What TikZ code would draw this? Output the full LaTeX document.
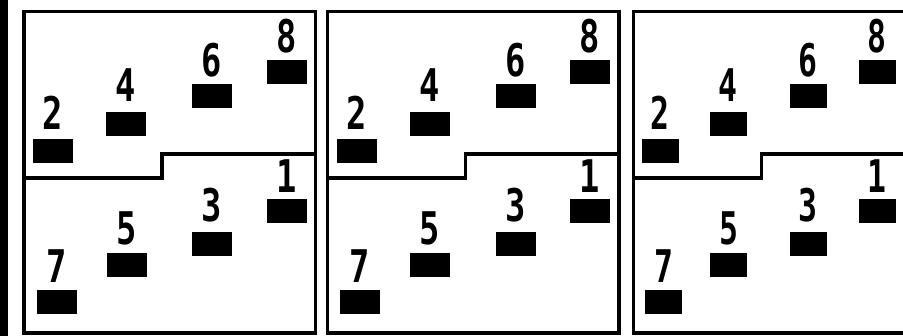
\documentclass[tikz,border=0pt]{standalone}
\usepackage{fontspec}
\newfontfamily\digitfont{DejaVu Sans Mono Bold}[FakeStretch=0.75]
\newfontfamily\digitfontc{DejaVu Sans Mono Bold}[FakeStretch=0.7]
\tikzset{
  frame/.style={line width=3.5pt, draw=black},
  bar/.style={fill=black, inner sep=0pt, minimum height=24pt},
  digit/.style={inner sep=0pt, anchor=base, text=black}
}
\newcommand\mypanel[5]{% #1 prefix, #2 xshift, #3 xscale, #4 bar width, #5 font
\begin{scope}[xshift=#2, xscale=#3, digit/.append style={font=#5\fontsize{45}{45}\selectfont}]
  \draw[frame] (24,11.5) rectangle (315.5,333);
  \draw[frame] (24,178) -- (162,178) -- (162,154) -- (315.5,154);
  \node[bar, minimum width=#4] (#1b2) at (53,151) {};
  \node[bar, minimum width=#4] (#1b4) at (126,124) {};
  \node[bar, minimum width=#4] (#1b6) at (212,96) {};
  \node[bar, minimum width=#4] (#1b8) at (286.5,72) {};
  \node[bar, minimum width=#4] (#1b1) at (286.5,211.5) {};
  \node[bar, minimum width=#4] (#1b3) at (212,244) {};
  \node[bar, minimum width=#4] (#1b5) at (126.5,265.5) {};
  \node[bar, minimum width=#4] (#1b7) at (56.5,302.5) {};
  \node[digit] (#1d2) at ([yshift=9pt]#1b2.north) {2};
  \node[digit] (#1d4) at ([yshift=10pt]#1b4.north) {4};
  \node[digit] (#1d6) at ([yshift=7pt]#1b6.north) {6};
  \node[digit] (#1d8) at ([yshift=7pt]#1b8.north) {8};
  \node[digit] (#1d1) at ([yshift=7pt]#1b1.north) {1};
  \node[digit] (#1d3) at ([yshift=10pt]#1b3.north) {3};
  \node[digit] (#1d5) at ([yshift=9pt]#1b5.north) {5};
  \node[digit] (#1d7) at ([yshift=8pt]#1b7.north) {7};
\end{scope}}
\begin{document}
\begin{tikzpicture}[x=1pt, y=-1pt]
  \useasboundingbox (0,0) rectangle (903,336);
  \clip (0,0) rectangle (903,336);
  \fill[white] (0,0) rectangle (903,336);
  \fill[black] (0,0) rectangle (8,336);
  \mypanel{pa}{0pt}{1}{40pt}{\digitfont}
  \mypanel{pb}{303.5pt}{1}{40pt}{\digitfont}
  \mypanel{pc}{611pt}{0.93}{37pt}{\digitfontc}
\end{tikzpicture}
\end{document}
